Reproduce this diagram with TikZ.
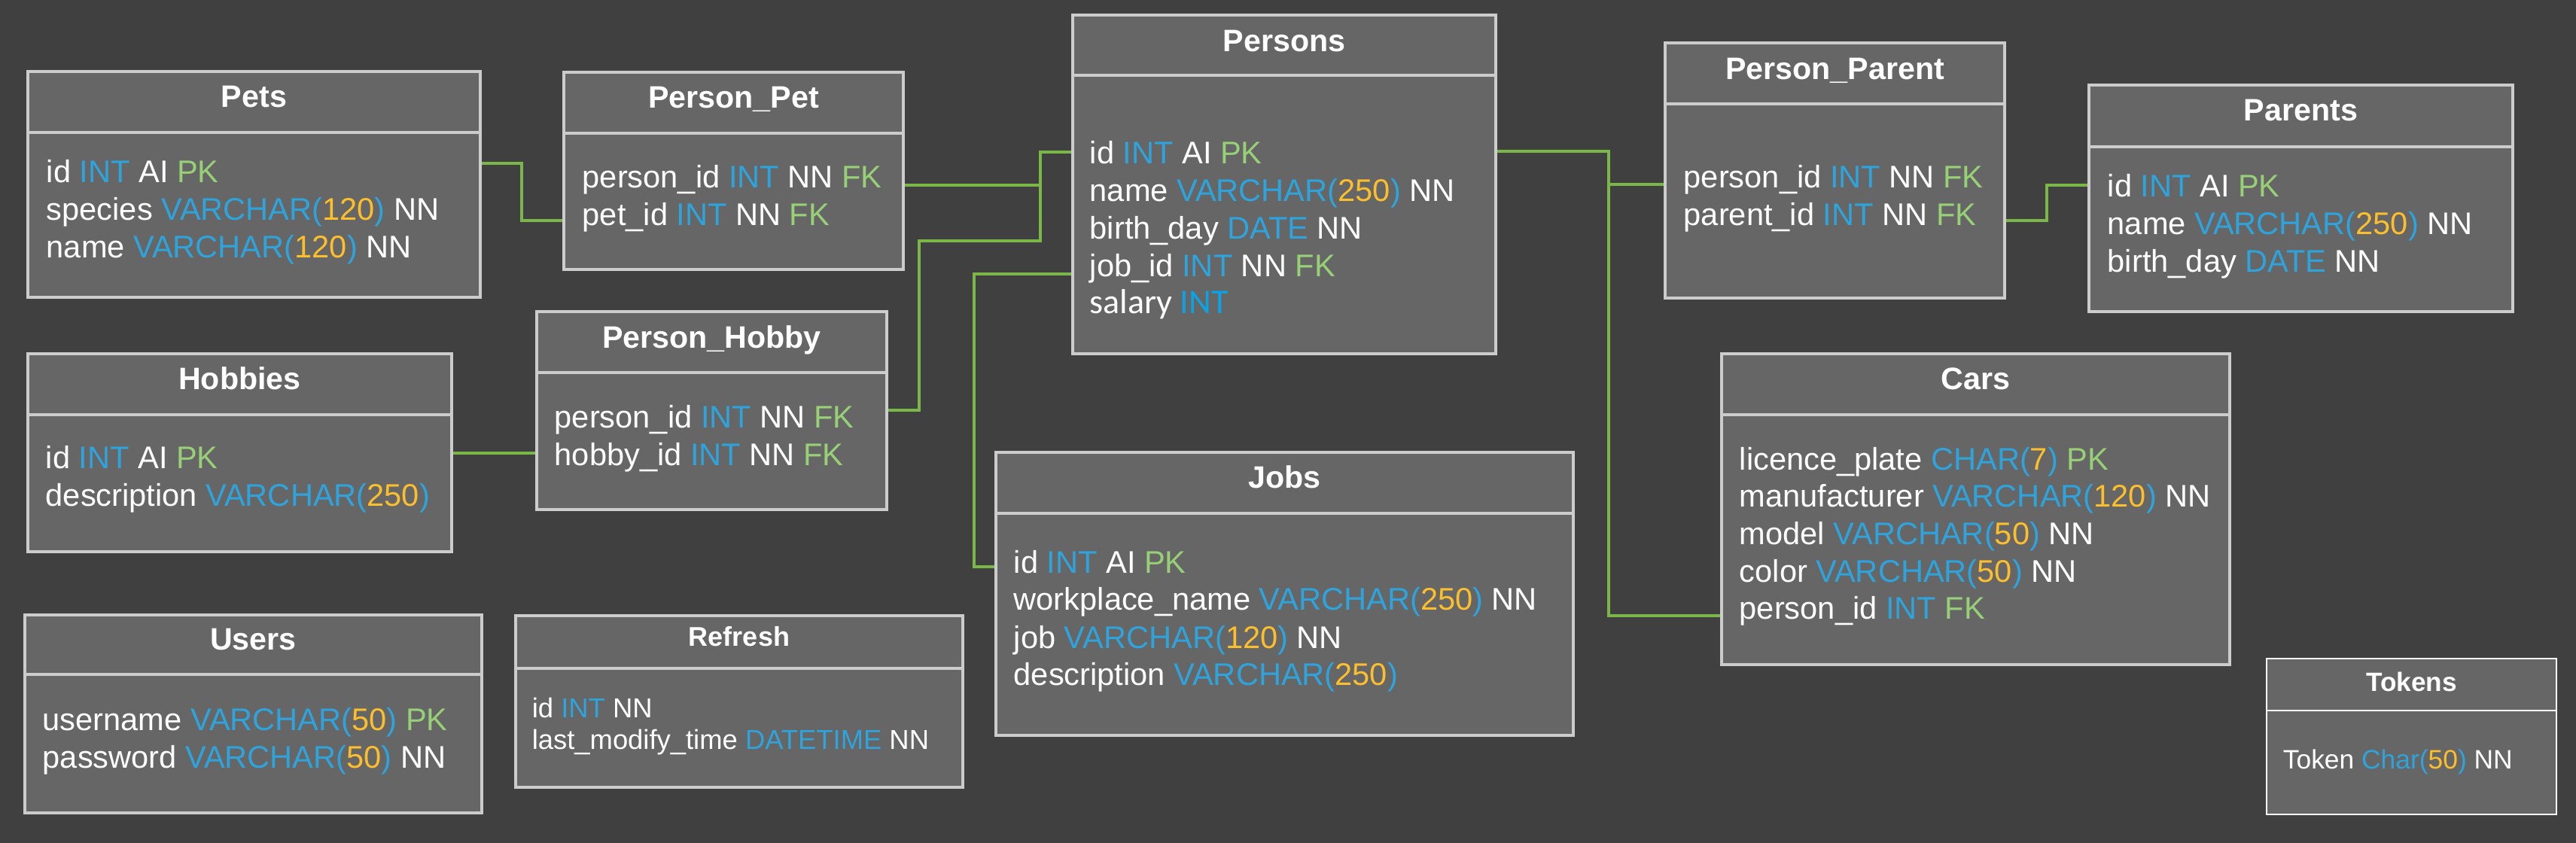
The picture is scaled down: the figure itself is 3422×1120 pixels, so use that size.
\documentclass[tikz,border=0pt]{standalone}
\usepackage{fontspec}
\setmainfont{Liberation Sans}
\newfontfamily\calfont{Carlito}
\usetikzlibrary{fit}
\definecolor{bgc}{HTML}{404040}
\definecolor{boxfill}{HTML}{666666}
\definecolor{boxline}{HTML}{CCCCCC}
\definecolor{lgreen}{HTML}{7AB648}
\definecolor{tblue}{HTML}{2EA3DC}
\definecolor{tyel}{HTML}{FBBE2D}
\definecolor{tgrn}{HTML}{97D077}
\definecolor{sblue}{HTML}{0BA3E4}
\newcommand\tB[1]{\textcolor{tblue}{#1}}
\newcommand\tY[1]{\textcolor{tyel}{#1}}
\newcommand\tG[1]{\textcolor{tgrn}{#1}}
\newcommand\vch[1]{\tB{VARCHAR(}\tY{#1}\tB{)}}
\tikzset{
  tbl/.style={draw=boxline, fill=boxfill, line width=0.875pt, inner sep=0pt, rectangle},
  hdr/.style={draw=boxline, line width=0.875pt},
  tokbox/.style={draw=white, line width=0.6pt},
  ttl/.style={anchor=base, inner sep=0pt, text=white, font=\fontsize{10.3pt}{12pt}\selectfont\bfseries},
  ttlsmall/.style={font=\fontsize{9pt}{10pt}\selectfont\bfseries},
  ttltiny/.style={font=\fontsize{8.8pt}{10pt}\selectfont\bfseries},
  fld/.style={anchor=base west, inner sep=0pt, text=white, font=\fontsize{10.4pt}{12pt}\selectfont},
  fldsmall/.style={font=\fontsize{9.1pt}{10pt}\selectfont},
  fldtiny/.style={font=\fontsize{8.85pt}{10pt}\selectfont},
  fldcal/.style={font=\fontsize{11.5pt}{13pt}\selectfont\calfont},
  conn/.style={draw=lgreen, line width=0.8pt},
}
% name x1 y1 x2 y2 header-y title title-style extra-style
\newcommand\ertable[9]{%
  \node[tbl, #9, fit={(#2,#3)(#4,#5)}] (#1) {};
  \draw[hdr, #9] (#2,#6) -- (#4,#6);
  \node[ttl, #8] (#1-t) at ({(#2+#4)/2},#3) {#7};
}
\begin{document}
\begin{tikzpicture}[x=0.25pt,y=-0.25pt]
\fill[bgc] (0,0) rectangle (3422,1120);
\useasboundingbox (0,0) rectangle (3422,1120);

% ---------- tables ----------
\ertable{pets}{37}{95}{638}{395}{176}{Pets}{yshift=-12pt}{}
\node[fld] (pets-f1) at (61,243) {id \tB{INT} AI \tG{PK}};
\node[fld] (pets-f2) at (61,293) {species \vch{120} NN};
\node[fld] (pets-f3) at (61,343) {name \vch{120} NN};

\ertable{personpet}{749}{96}{1200}{358}{177}{Person\_Pet}{yshift=-12pt}{}
\node[fld] (pp-f1) at (773,250) {person\_id \tB{INT} NN \tG{FK}};
\node[fld] (pp-f2) at (773,300) {pet\_id \tB{INT} NN \tG{FK}};

\ertable{persons}{1425}{20}{1987}{470}{100}{Persons}{yshift=-12.25pt}{}
\node[fld] (ps-f1) at (1447,218) {id \tB{INT} AI \tG{PK}};
\node[fld] (ps-f2) at (1447,268) {name \vch{250} NN};
\node[fld] (ps-f3) at (1447,318) {birth\_day \tB{DATE} NN};
\node[fld] (ps-f4) at (1447,368) {job\_id \tB{INT} NN \tG{FK}};
\node[fld, fldcal] (ps-f5) at (1447,417) {salary \textcolor{sblue}{INT}};

\ertable{personparent}{2212}{57}{2663}{396}{138}{Person\_Parent}{yshift=-12.25pt}{}
\node[fld] (ppa-f1) at (2236,250) {person\_id \tB{INT} NN \tG{FK}};
\node[fld] (ppa-f2) at (2236,300) {parent\_id \tB{INT} NN \tG{FK}};

\ertable{parents}{2775}{113}{3338}{414}{195}{Parents}{yshift=-12pt}{}
\node[fld] (pa-f1) at (2799,262) {id \tB{INT} AI \tG{PK}};
\node[fld] (pa-f2) at (2799,312) {name \vch{250} NN};
\node[fld] (pa-f3) at (2799,362) {birth\_day \tB{DATE} NN};

\ertable{hobbies}{37}{470}{600}{733}{551}{Hobbies}{yshift=-12pt}{}
\node[fld] (hb-f1) at (60,623) {id \tB{INT} AI \tG{PK}};
\node[fld] (hb-f2) at (60,673) {description \vch{250}};

\ertable{personhobby}{713}{414}{1178}{677}{495}{Person\_Hobby}{yshift=-12.25pt}{}
\node[fld] (ph-f1) at (736,569) {person\_id \tB{INT} NN \tG{FK}};
\node[fld] (ph-f2) at (736,619) {hobby\_id \tB{INT} NN \tG{FK}};

\ertable{users}{33}{817}{640}{1080}{896}{Users}{yshift=-11.75pt}{}
\node[fld] (us-f1) at (56,970) {username \vch{50} \tG{PK}};
\node[fld] (us-f2) at (56,1020) {password \vch{50} NN};

\ertable{refresh}{685}{818}{1279}{1046}{888}{Refresh}{ttlsmall, yshift=-10.25pt}{}
\node[fld, fldsmall] (rf-f1) at (706,953) {id \tB{INT} NN};
\node[fld, fldsmall] (rf-f2) at (706,995) {last\_modify\_time \tB{DATETIME} NN};

\ertable{jobs}{1323}{601}{2090}{977}{682}{Jobs}{yshift=-11.9pt}{}
\node[fld] (jb-f1) at (1346,762) {id \tB{INT} AI \tG{PK}};
\node[fld] (jb-f2) at (1346,811) {workplace\_name \vch{250} NN};
\node[fld] (jb-f3) at (1346,861) {job \vch{120} NN};
\node[fld] (jb-f4) at (1346,911) {description \vch{250}};

\ertable{cars}{2287}{470}{2962}{883}{551}{Cars}{yshift=-12pt}{}
\node[fld] (cr-f1) at (2310,625) {licence\_plate \tB{CHAR(}\tY{7}\tB{)} \tG{PK}};
\node[fld] (cr-f2) at (2310,674) {manufacturer \vch{120} NN};
\node[fld] (cr-f3) at (2310,724) {model \vch{50} NN};
\node[fld] (cr-f4) at (2310,774) {color \vch{50} NN};
\node[fld] (cr-f5) at (2310,823) {person\_id \tB{INT} \tG{FK}};

\ertable{tokens}{3011}{875}{3396}{1082}{944}{Tokens}{ttltiny, yshift=-10.75pt}{tokbox}
\node[fld, fldtiny] (tk-f1) at (3032,1021) {Token \tB{Char(}\tY{50}\tB{)} NN};

% ---------- connectors ----------
\draw[conn] (pets.east |- 0,217) -- (693,217) -- (693,293) -- (personpet.west |- 0,293);
\draw[conn] (personpet.east |- 0,246) -- (1382,246) -- (1382,202) -- (persons.west |- 0,202);
\draw[conn] (personhobby.east |- 0,545) -- (1221,545) -- (1221,320) -- (1382,320) -- (1382,202) -- (persons.west |- 0,202);
\draw[conn] (persons.west |- 0,364) -- (1294,364) -- (1294,753) -- (jobs.west |- 0,753);
\draw[conn] (hobbies.east |- 0,602) -- (personhobby.west |- 0,602);
\draw[conn] (persons.east |- 0,201) -- (2137,201) -- (2137,245) -- (personparent.west |- 0,245);
\draw[conn] (persons.east |- 0,201) -- (2137,201) -- (2137,818) -- (cars.west |- 0,818);
\draw[conn] (personparent.east |- 0,293) -- (2719,293) -- (2719,246) -- (parents.west |- 0,246);
\end{tikzpicture}
\end{document}
